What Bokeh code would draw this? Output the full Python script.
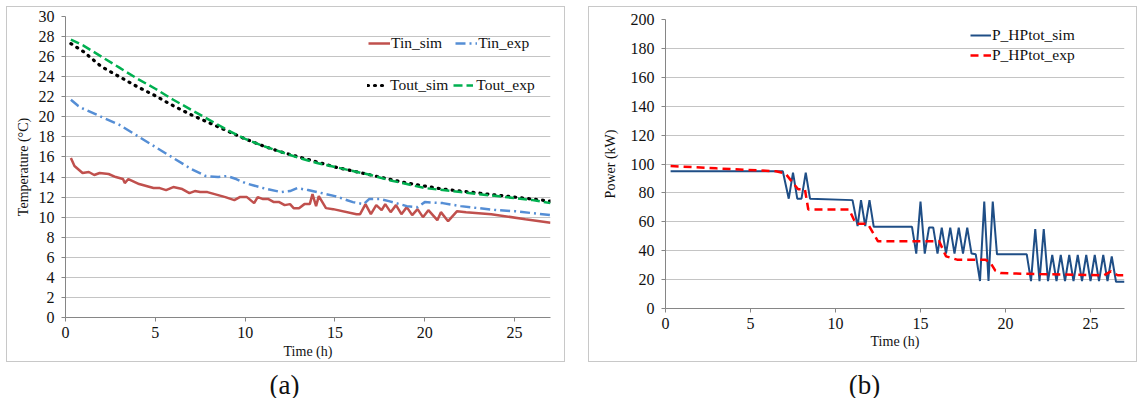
from bokeh.plotting import figure
from bokeh.layouts import row, column
from bokeh.models import Div, Spacer, Legend, LegendItem, Range1d, FixedTicker
from bokeh.embed import file_html
from bokeh.resources import INLINE

# ---------------- Panel (a) data ----------------
tin_sim_t = [0.3, 0.5, 0.95, 1.3, 1.6, 1.9, 2.4, 2.8, 3.2, 3.3, 3.5, 4.1, 4.9, 5.25, 5.6, 6.0, 6.5,
             6.9, 7.2, 7.5, 7.9, 8.9, 9.4, 9.7, 10.1, 10.5, 10.7, 11.0, 11.3, 11.6, 11.9, 12.2,
             12.5, 12.7, 13.0, 13.3, 13.6, 13.75, 13.95, 14.1, 14.5, 14.9, 16.2, 16.4, 16.7,
             17.0, 17.3, 17.6, 17.8, 18.1, 18.4, 18.7, 19.0, 19.3, 19.6, 19.9, 20.2, 20.7,
             20.9, 21.3, 21.8, 22.3, 23.7, 25.6, 27.0]
tin_sim_v = [15.9, 15.1, 14.4, 14.5, 14.2, 14.4, 14.3, 14.0, 13.8, 13.4, 13.8, 13.3, 12.9, 12.9,
             12.7, 13.0, 12.8, 12.4, 12.6, 12.5, 12.5, 12.0, 11.7, 12.0, 12.0, 11.4, 12.0, 11.8,
             11.8, 11.5, 11.5, 11.2, 11.3, 10.9, 10.9, 11.3, 11.3, 12.3, 11.1, 12.1, 10.9, 10.8,
             10.3, 10.3, 11.3, 10.3, 11.2, 10.7, 11.3, 10.5, 11.2, 10.3, 11.0, 10.2, 10.8, 10.0,
             10.7, 9.7, 10.5, 9.6, 10.6, 10.5, 10.3, 9.8, 9.45]

tin_exp_t = [0.3, 0.7, 1.0, 2.0, 3.0, 4.0, 5.0, 6.0, 7.0, 7.8, 8.5, 9.0, 9.5, 10.0, 11.0, 12.0,
             12.5, 12.9, 13.5, 14.0, 15.0, 16.0, 16.6, 16.9, 17.5, 18.0, 19.0, 19.6, 20.0, 21.0,
             22.0, 23.0, 24.0, 25.0, 26.0, 27.0]
tin_exp_v = [21.7, 21.1, 20.8, 20.0, 19.2, 18.1, 17.0, 15.9, 14.8, 14.1, 14.0, 14.1, 13.8, 13.4,
             12.9, 12.5, 12.6, 12.9, 12.7, 12.5, 12.1, 11.5, 11.3, 11.8, 11.8, 11.6, 11.1, 11.0,
             11.5, 11.4, 11.1, 10.9, 10.7, 10.6, 10.4, 10.2]

tout_t = [0.3, 1, 2, 3, 4, 5, 6, 7, 8, 9, 10, 11, 12, 13, 14, 15, 16, 17, 18, 19, 20, 21, 22,
          23, 24, 25, 26, 27]
tout_sim_v = [27.3, 26.5, 25.0, 24.0, 23.0, 22.1, 21.1, 20.2, 19.4, 18.6, 17.8, 17.1, 16.5, 16.0,
              15.5, 15.0, 14.6, 14.2, 13.8, 13.4, 13.1, 12.8, 12.6, 12.4, 12.2, 12.0, 11.8, 11.6]
tout_exp_v = [27.7, 27.1, 26.0, 24.9, 23.8, 22.8, 21.7, 20.7, 19.7, 18.7, 17.8, 17.1, 16.5, 15.9,
              15.4, 15.0, 14.6, 14.2, 13.7, 13.3, 12.9, 12.7, 12.5, 12.3, 12.1, 11.9, 11.7, 11.4]

# ---------------- Panel (b) data ----------------
p_sim_t = [0.3, 6.9, 7.25, 7.5, 7.75, 8.0, 8.25, 8.5, 11.0, 11.3, 11.5, 11.75, 12.0, 12.25, 14.5,
           14.75, 15.0, 15.25, 15.5, 15.75, 16.0, 16.25, 16.5, 16.75, 17.0, 17.25, 17.5, 17.75,
           18.0, 18.25, 18.5, 18.75, 19.0, 19.25, 19.5, 21.25, 21.5, 21.75, 22.0, 22.25, 22.5,
           22.75, 23.0, 23.25, 23.5, 23.75, 24.0, 24.25, 24.5, 24.75, 25.0, 25.25, 25.5, 25.75,
           26.0, 26.25, 26.5, 27.0]
p_sim_v = [95, 95, 76, 94, 76, 76, 94, 76, 75, 57, 75, 57, 75, 56.5, 56.5, 38, 74, 38, 56, 56,
           38, 56, 38, 56, 38, 56, 38, 56, 38, 37.5, 19, 74, 19, 74, 37.5, 37.5, 19, 55, 19, 55,
           19, 37, 19, 37, 19, 37, 19, 37, 19, 37, 19, 37, 19, 37, 19, 36, 18.5, 18.5]

p_exp_t = [0.3, 3.0, 6.5, 7.05, 7.8, 8.2, 8.4, 10.8, 11.2, 11.9, 12.5, 16.1, 16.5, 17.15, 18.8,
           19.1, 19.4, 19.7, 22.0, 25.8, 26.2, 26.6, 27.0]
p_exp_v = [98.6, 97.0, 95.0, 93.5, 82.5, 82.5, 68.5, 68.5, 58.6, 58.6, 46.5, 46.5, 36.1, 33.8,
           33.8, 32.0, 26.2, 24.5, 23.8, 23.0, 25.7, 23.0, 23.0]

xticks = [0, 5, 10, 15, 20, 25]
yticks_a = list(range(0, 31, 2))
yticks_b = list(range(0, 201, 20))

FONT = "'Liberation Serif', serif"
GRID = "#c4c4c4"
AXIS = "#868686"


def style(p, yticks):
    p.xaxis.ticker = FixedTicker(ticks=xticks)
    p.yaxis.ticker = FixedTicker(ticks=yticks)
    p.xgrid.visible = False
    p.ygrid.grid_line_color = GRID
    p.ygrid.grid_line_width = 1
    p.outline_line_color = None
    p.background_fill_color = "white"
    p.border_fill_color = "white"
    for ax in (p.xaxis[0], p.yaxis[0]):
        ax.axis_line_color = AXIS
        ax.major_tick_line_color = AXIS
        ax.minor_tick_line_color = None
        ax.major_tick_in = 0
        ax.major_tick_out = 4
        ax.major_label_text_font = FONT
        ax.major_label_text_font_size = "16px"
        ax.major_label_text_color = "#111111"
        ax.axis_label_text_font = FONT
        ax.axis_label_text_font_style = "normal"
        ax.axis_label_text_font_size = "14px"
        ax.axis_label_text_color = "#111111"
    p.xaxis.major_label_standoff = 5
    p.xaxis.axis_label_standoff = 3
    p.yaxis.major_label_standoff = 7
    p.yaxis.axis_label_standoff = 5


def legend_style(lg):
    lg.label_text_font = FONT
    lg.label_text_font_size = "15.5px"
    lg.label_text_color = "#111111"
    lg.border_line_color = None
    lg.background_fill_alpha = 0
    lg.padding = 0
    lg.margin = 0
    lg.label_standoff = 1
    lg.glyph_height = 18
    lg.label_height = 18
    lg.click_policy = "none"


# ---------------- Figure (a) ----------------
pa = figure(width=559, height=356, x_range=Range1d(0, 27), y_range=Range1d(0, 30),
            output_backend="svg", toolbar_location=None,
            min_border_left=58, min_border_right=16, min_border_top=9, min_border_bottom=46,
            x_axis_label="Time (h)", y_axis_label="Temperature (°C)")
style(pa, yticks_a)

r_tin_sim = pa.line(tin_sim_t, tin_sim_v, line_color="#C0504D", line_width=2.5)
r_tin_exp = pa.line(tin_exp_t, tin_exp_v, line_color="#558ED5", line_width=2.5,
                    line_dash="10 4 2 4")
r_tout_sim = pa.line(tout_t, tout_sim_v, line_color="black", line_width=3.2,
                     line_dash="1 6", line_cap="round")
r_tout_exp = pa.line(tout_t, tout_exp_v, line_color="#00B050", line_width=2.5,
                     line_dash="9 4")

lg1 = Legend(items=[LegendItem(label="Tin_sim", renderers=[r_tin_sim]),
                    LegendItem(label="Tin_exp", renderers=[r_tin_exp])],
             orientation="horizontal", location=(303, 265), spacing=13, glyph_width=22)
lg2 = Legend(items=[LegendItem(label="Tout_sim", renderers=[r_tout_sim]),
                    LegendItem(label="Tout_exp", renderers=[r_tout_exp])],
             orientation="horizontal", location=(302, 223), spacing=5, glyph_width=20)
legend_style(lg1)
legend_style(lg2)
lg2.label_standoff = 3
pa.add_layout(lg1, "center")
pa.add_layout(lg2, "center")

# ---------------- Figure (b) ----------------
pb = figure(width=549, height=356, x_range=Range1d(0, 27), y_range=Range1d(0, 200),
            output_backend="svg", toolbar_location=None,
            min_border_left=76, min_border_right=14, min_border_top=12, min_border_bottom=55,
            x_axis_label="Time (h)", y_axis_label="Power (kW)")
style(pb, yticks_b)
pb.xaxis.axis_label_standoff = 2
pb.yaxis.axis_label_standoff = 10

r_p_sim = pb.line(p_sim_t, p_sim_v, line_color="#1F4E86", line_width=2)
r_p_exp = pb.line(p_exp_t, p_exp_v, line_color="#FF0000", line_width=2.5, line_dash="8 5")

lgb = Legend(items=[LegendItem(label="P_HPtot_sim", renderers=[r_p_sim]),
                    LegendItem(label="P_HPtot_exp", renderers=[r_p_exp])],
             orientation="vertical", location=(305, 244), spacing=2, glyph_width=21)
legend_style(lgb)
pb.add_layout(lgb, "center")

for p in (pa, pb):
    p.styles = {"border": "1px solid #c8c8c8"}

div_style = {"font-family": FONT, "font-size": "27px", "color": "#111111",
             "text-align": "center", "line-height": "36px"}
diva = Div(text="(a)", width=559, height=36, styles=dict(div_style, **{"padding-right": "12px"}))
divb = Div(text="(b)", width=549, height=36, styles=dict(div_style, **{"padding-right": "6px"}))

layout = row(Spacer(width=6),
             column(Spacer(height=6), pa, diva),
             Spacer(width=13),
             column(Spacer(height=6), pb, divb))

open("out.html", "w").write(file_html(layout, INLINE))
